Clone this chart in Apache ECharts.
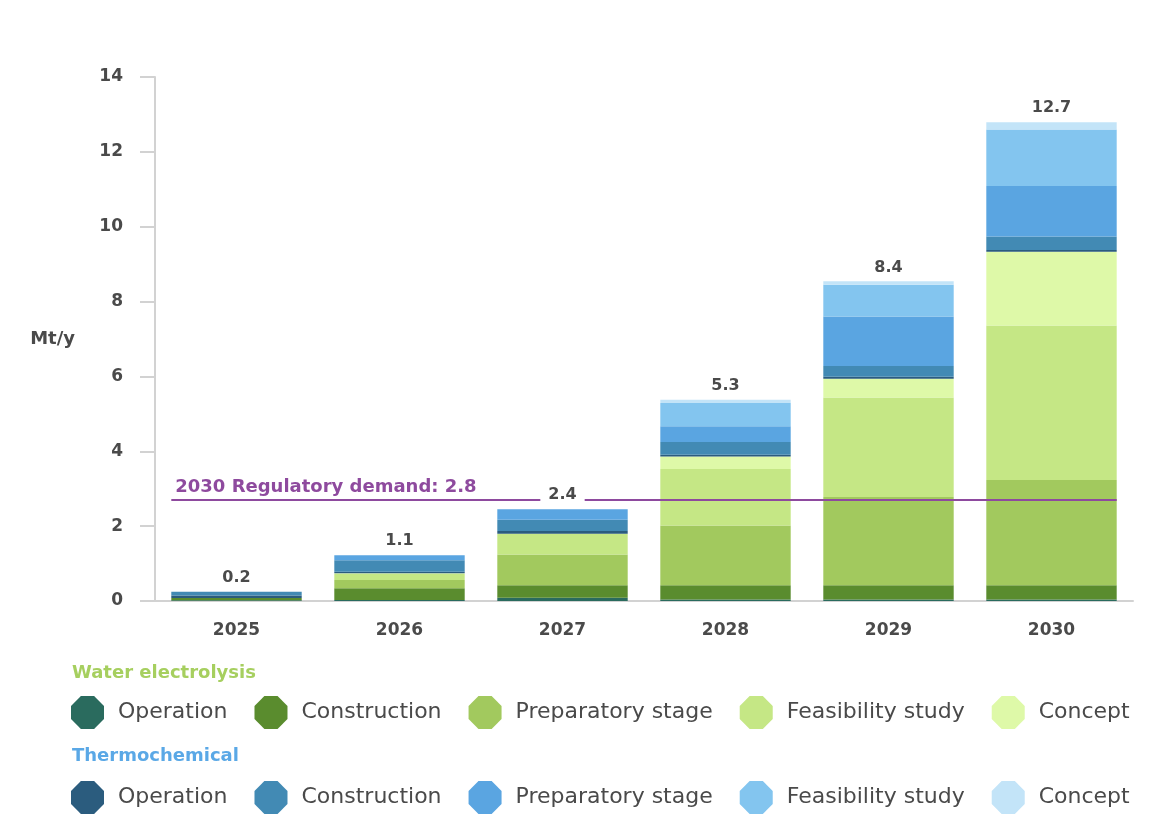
<!DOCTYPE html>
<html>
<head>
<meta charset="utf-8">
<title>Hydrogen production pipeline</title>
<script src="https://cdn.jsdelivr.net/npm/echarts@6/dist/echarts.min.js"></script>
<style>
	html, body { margin: 0; padding: 0; background: #fff; }
	#chart { width: 1161px; height: 827px; }
</style>
</head>
<body>
<div id="chart"></div>
<script>
var years = ['2025', '2026', '2027', '2028', '2029', '2030'];
var stages = ['Operation', 'Construction', 'Preparatory stage', 'Feasibility study', 'Concept'];

// Water electrolysis, Mt/y
var weOperation   = [0.02, 0.03, 0.09, 0.04, 0.04, 0.04];
var weConstruction = [0.06, 0.31, 0.33, 0.38, 0.38, 0.38];
var wePreparatory = [0, 0.22, 0.82, 1.60, 2.36, 2.81];
var weFeasibility = [0, 0.16, 0.56, 1.51, 2.66, 4.13];
var weConcept     = [0, 0.02, 0, 0.33, 0.50, 1.97];

// Thermochemical, Mt/y
var tcOperation   = [0.07, 0.04, 0.07, 0.05, 0.05, 0.05];
var tcConstruction = [0.10, 0.31, 0.30, 0.34, 0.29, 0.36];
var tcPreparatory = [0, 0.13, 0.28, 0.42, 1.32, 1.35];
var tcFeasibility = [0, 0, 0, 0.62, 0.85, 1.51];
var tcConcept     = [0, 0, 0, 0.09, 0.09, 0.19];

var totals = [0.2, 1.1, 2.4, 5.3, 8.4, 12.7];

var demandValue = 2.7;
var demandText = '2030 Regulatory demand: 2.8';

var weColors = ['#2a6b5e', '#5a8c2e', '#a2c95e', '#c5e785', '#def9a8'];
var tcColors = ['#2b5c7e', '#428ab4', '#5aa5e1', '#83c5ef', '#c3e4f8'];

var TEXT = '#4a4a4a';
var PURPLE = '#8e4a9e';
var FONT = '"DejaVu Sans", sans-serif';

(function () {

	var chart = echarts.init(document.getElementById('chart'));

	var octagon = 'path://M30,0 L70,0 L100,30 L100,70 L70,100 L30,100 L0,70 L0,30 Z';

	var weData = [weOperation, weConstruction, wePreparatory, weFeasibility, weConcept];
	var tcData = [tcOperation, tcConstruction, tcPreparatory, tcFeasibility, tcConcept];

	function makeSeries(prefix, list, colors) {
		return list.map(function (vals, i) {
			return {
				name: prefix + stages[i], type: 'bar', stack: 'all',
				barWidth: '80%',
				itemStyle: { color: colors[i] },
				emphasis: { focus: 'series' },
				data: vals
			};
		});
	}

	var weNames = stages.map(function (s) { return 'WE ' + s; });
	var tcNames = stages.map(function (s) { return 'TC ' + s; });

	var series = makeSeries('WE ', weData, weColors).concat(makeSeries('TC ', tcData, tcColors));

	// zero-height cap on the stack that carries the total label
	series.push({
		name: 'Total', type: 'bar', stack: 'all', barWidth: '80%', z: 10,
		tooltip: { show: false },
		itemStyle: { color: 'transparent' },
		label: {
			show: true, position: 'top', distance: 6,
			formatter: function (p) { return totals[p.dataIndex].toFixed(1); },
			color: TEXT, fontFamily: FONT, fontWeight: 'bold', fontSize: 16,
			backgroundColor: '#fff', padding: [0, 8, 0, 8]
		},
		data: years.map(function () { return 0; })
	});

	// regulatory demand line, spanning first to last bar edge
	var half = 0.4;
	series.push({
		name: 'Demand', type: 'line', xAxisIndex: 1, z: 3,
		silent: true, symbol: 'none',
		data: [],
		markLine: {
			silent: true, symbol: ['none', 'none'],
			lineStyle: { color: PURPLE, width: 2, type: 'solid' },
			label: {
				show: true, position: 'insideStartTop', distance: 4,
				formatter: demandText,
				color: PURPLE, fontFamily: FONT, fontWeight: 'bold', fontSize: 18
			},
			data: [[
				{ coord: [0 - half, demandValue] },
				{ coord: [years.length - 1 + half, demandValue] }
			]]
		}
	});

	var legendBase = {
		left: 66, itemWidth: 33, itemHeight: 33, itemGap: 27,
		icon: octagon,
		formatter: function (name) { return name.slice(3); },
		textStyle: { color: TEXT, fontFamily: FONT, fontSize: 22, padding: [0, 0, 0, 9] }
	};

	chart.setOption({
		animation: false,
		textStyle: { fontFamily: FONT },
		title: [
			{ text: 'Water electrolysis', left: 67, top: 659,
				textStyle: { color: '#a6cf5f', fontFamily: FONT, fontSize: 18, fontWeight: 'bold' } },
			{ text: 'Thermochemical', left: 67, top: 742,
				textStyle: { color: '#5aa8e6', fontFamily: FONT, fontSize: 18, fontWeight: 'bold' } }
		],
		tooltip: { trigger: 'axis', axisPointer: { type: 'shadow' } },
		legend: [
			Object.assign({ top: 691, data: weNames }, legendBase),
			Object.assign({ top: 776, data: tcNames }, legendBase)
		],
		grid: { left: 155, width: 978, top: 77, height: 524 },
		xAxis: [
			{
				type: 'category', data: years,
				axisLine: { lineStyle: { color: '#d2d2d2', width: 2 } },
				axisTick: { show: false },
				axisLabel: { color: TEXT, fontWeight: 'bold', fontSize: 17, margin: 21 }
			},
			{
				type: 'value', min: -0.5, max: years.length - 0.5, show: false
			}
		],
		yAxis: {
			type: 'value', min: 0, max: 14, interval: 2,
			name: 'Mt/y', nameLocation: 'middle', nameRotate: 0, nameGap: 80,
			nameTextStyle: { color: TEXT, fontWeight: 'bold', fontSize: 18, padding: [0, 0, 16, 0] },
			axisLine: { show: true, onZero: false, lineStyle: { color: '#d2d2d2', width: 2 } },
			axisTick: { show: true, length: 15, lineStyle: { color: '#d2d2d2', width: 2 } },
			splitLine: { show: false },
			axisLabel: { color: TEXT, fontWeight: 'bold', fontSize: 17, margin: 32 }
		},
		series: series
	});

	window.addEventListener('resize', function () { chart.resize(); });

})();
</script>
</body>
</html>
